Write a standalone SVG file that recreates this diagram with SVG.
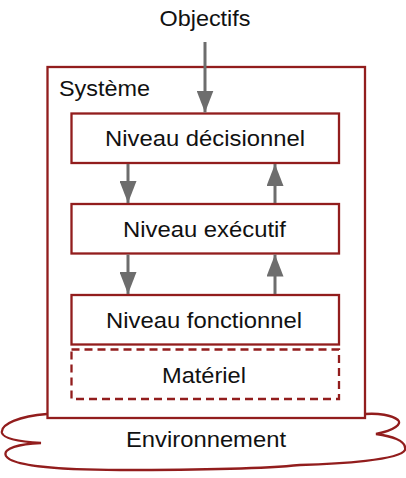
<svg xmlns="http://www.w3.org/2000/svg" width="406" height="478" viewBox="0 0 406 478">
  <style>
    .box { fill: #ffffff; stroke: #921d1d; stroke-width: 2.3; }
    .dash { fill: #ffffff; stroke: #921d1d; stroke-width: 2.3; stroke-dasharray: 8 5; }
    .lbl { font-family: "Liberation Sans", Arial, sans-serif; font-size: 22px; fill: #111111; }
    .mid { text-anchor: middle; }
    .arr { stroke: #6d6d6d; stroke-width: 3; fill: none; marker-end: url(#head); }
  </style>
  <defs>
    <marker id="head" markerUnits="userSpaceOnUse" markerWidth="22" markerHeight="17" refX="22" refY="8.5" orient="auto" viewBox="0 0 22 17">
      <path d="M0,0 L22,8.5 L0,17 Z" fill="#6d6d6d"/>
    </marker>
  </defs>
  <rect width="406" height="478" fill="#ffffff"/>

  <g id="environnement">
    <path class="box" d="M47,414 C20,416 0,424 2,433 C4,440 25,442 41,443 C20,444 2,448 6,456 C12,466 60,470 120,470 C200,470 260,469 300,465 C340,464 400,460 405,450 C407,440 390,436 376,434 C395,430 402,424 398,420 C392,415 378,413 365,414"/>
    <text class="lbl mid" x="206" y="447" textLength="160" lengthAdjust="spacingAndGlyphs">Environnement</text>
  </g>

  <g id="systeme">
    <rect class="box" x="47.5" y="67" width="317.5" height="351"/>
    <text class="lbl" x="59" y="96" textLength="91" lengthAdjust="spacingAndGlyphs">Système</text>
  </g>

  <g id="objectifs">
    <text class="lbl mid" x="205" y="26" textLength="91" lengthAdjust="spacingAndGlyphs">Objectifs</text>
  </g>

  <g id="decisionnel">
    <rect class="box" x="71.5" y="113.5" width="267.5" height="49.5"/>
    <text class="lbl mid" x="205" y="146" textLength="200" lengthAdjust="spacingAndGlyphs">Niveau décisionnel</text>
  </g>

  <g id="executif">
    <rect class="box" x="71.5" y="204" width="267.5" height="49.5"/>
    <text class="lbl mid" x="204.5" y="237" textLength="163" lengthAdjust="spacingAndGlyphs">Niveau exécutif</text>
  </g>

  <g id="fonctionnel">
    <rect class="box" x="71.5" y="295" width="267.5" height="49.5"/>
    <text class="lbl mid" x="204" y="328" textLength="196" lengthAdjust="spacingAndGlyphs">Niveau fonctionnel</text>
  </g>

  <g id="materiel">
    <rect class="dash" x="71.5" y="349.5" width="267.5" height="49.5"/>
    <text class="lbl mid" x="204" y="383" textLength="84" lengthAdjust="spacingAndGlyphs">Matériel</text>
  </g>

  <g id="connectors">
    <line class="arr" x1="205" y1="42" x2="205" y2="112.5"/>
    <line class="arr" x1="128" y1="164" x2="128" y2="203"/>
    <line class="arr" x1="275" y1="203" x2="275" y2="164"/>
    <line class="arr" x1="128" y1="254.5" x2="128" y2="294"/>
    <line class="arr" x1="275" y1="294" x2="275" y2="254.5"/>
  </g>
</svg>
